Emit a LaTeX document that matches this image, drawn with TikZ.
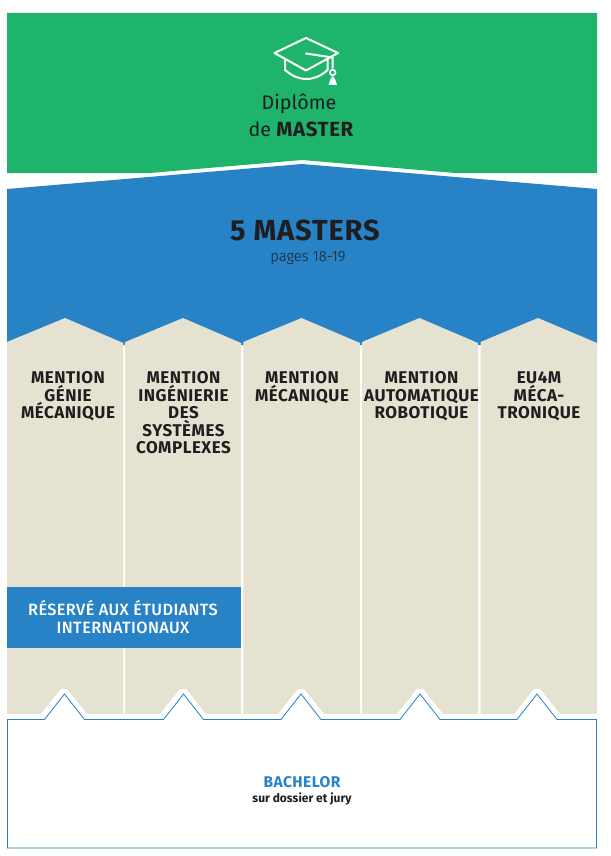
\documentclass[tikz,border=0pt]{standalone}
\usepackage{fontspec}
\setmainfont{Fira Sans}
\newfontfamily\din[LetterSpace=3]{Fira Sans}
\newfontfamily\dinm[LetterSpace=2.5]{Fira Sans Medium}
\newfontfamily\firal{Fira Sans Light}
\definecolor{grn}{HTML}{1FB46C}
\definecolor{blu}{HTML}{2782C6}
\definecolor{bge}{HTML}{E5E2D2}
\definecolor{ink}{HTML}{1E1E20}
\newcommand{\fs}[2]{\fontsize{#1}{#2}\selectfont}
\tikzset{
  column/.style={fill=bge,draw=none},
  heading/.style={align=center,text=ink,font=\din\bfseries\fs{17}{17.5},inner sep=0pt,anchor=north},
  capline/.style={draw=white,line width=2pt,line join=round,line cap=round},
  lbl/.style={inner sep=0pt,anchor=base},
}
\begin{document}
\begin{tikzpicture}[x=1pt,y=-1pt]
\useasboundingbox (0,0) rectangle (610,856);
\fill[white] (0,0) rectangle (610,856);
\fill[grn] (7,13) -- (597,13) -- (597,173) -- (455,173) -- (302,160) -- (150,173) -- (7,173) -- cycle;
\fill[blu] (7,189) -- (302,164) -- (597,189) -- (597,345) -- (7,345) -- cycle;
% columns
\foreach \l/\r/\a in {7/123.3/65,125.2/241/183,243.3/360/301.5,362/478/419.5,480.5/597/538}{
  \fill[column] (\l,342) -- (\a,318) -- (\r,343) -- (\r,714) -- (\l,714) -- cycle;
}
% white halo + outlined box
\fill[white] (7,714) -- (41,714) -- (61,689) -- (67,689) -- (87,714)
  -- (160,714) -- (180,689) -- (186,689) -- (206,714)
  -- (278,714) -- (298,689) -- (304,689) -- (324,714)
  -- (397,714) -- (417,689) -- (423,689) -- (443,714)
  -- (514,714) -- (534,689) -- (540,689) -- (560,714)
  -- (597,714) -- (597,720) -- (7,720) -- cycle;
\draw[blu,line width=0.8pt,fill=white,line join=miter] (7.5,719.5) -- (44.5,719.5) -- (64.5,694) -- (84.5,719.5)
  -- (163.5,719.5) -- (183.5,694) -- (203.5,719.5)
  -- (281,719.5) -- (301,694) -- (321,719.5)
  -- (400,719.5) -- (420,694) -- (440,719.5)
  -- (517,719.5) -- (537,694) -- (557,719.5)
  -- (596.5,719.5) -- (596.5,848) -- (7.5,848) -- cycle;
% banner
\fill[blu] (7,587) rectangle (241,648);
% icon
\draw[capline] (306,38) -- (338,53) -- (306,70.5) -- (274.5,53) -- cycle;
\draw[capline] (285,60) -- (285,70) .. controls (292,76) and (299,79) .. (306,79) .. controls (314,79) and (321,76) .. (327.5,70) -- (327.5,59);
\draw[capline] (306,53.5) -- (332.5,57.5) -- (332.5,68);
\draw[draw=white,line width=1.7pt] (332.7,72.5) circle (2.8);
\fill[white] (332.7,76) -- (335,79) -- (337,85) -- (328.5,85) -- (330.5,79) -- cycle;
% text
\node[lbl,text=ink,font=\fs{19.7}{20}] (dip) at (299,109.5) {Diplôme};
\node[lbl,text=ink,font=\fs{19.7}{20}] (mas) at (301,136) {de {\din\bfseries\fs{20.5}{20.5}MASTER}};
\node[lbl,text=ink,font=\din\bfseries\fs{29}{29}] (five) at (305,240) {5 MASTERS};
\node[lbl,text=ink,font=\firal\fs{14.8}{14.8}] (pg) at (308,261) {pages 18-19};
\node[heading] (h1) at (68,371.6) {MENTION\\GÉNIE\\MÉCANIQUE};
\node[heading] (h2) at (183.5,371.6) {MENTION\\INGÉNIERIE\\DES\\SYSTÈMES\\COMPLEXES};
\node[heading] (h3) at (302,371.6) {MENTION\\MÉCANIQUE};
\node[heading] (h4) at (421.5,371.6) {MENTION\\AUTOMATIQUE\\ROBOTIQUE};
\node[heading] (h5) at (539,371.6) {EU4M\\MÉCA-\\TRONIQUE};
\node[text=white,font=\dinm\fs{16.3}{18},align=center,inner sep=0pt] (res) at (123,616.8) {RÉSERVÉ AUX ÉTUDIANTS\\INTERNATIONAUX};
\node[lbl,text=blu,font=\din\bfseries\fs{15.5}{15.5}] (ba) at (302,787) {BACHELOR};
\node[lbl,text=ink,font=\bfseries\fs{12}{12}] (sd) at (302,802) {sur dossier et jury};
\end{tikzpicture}
\end{document}
